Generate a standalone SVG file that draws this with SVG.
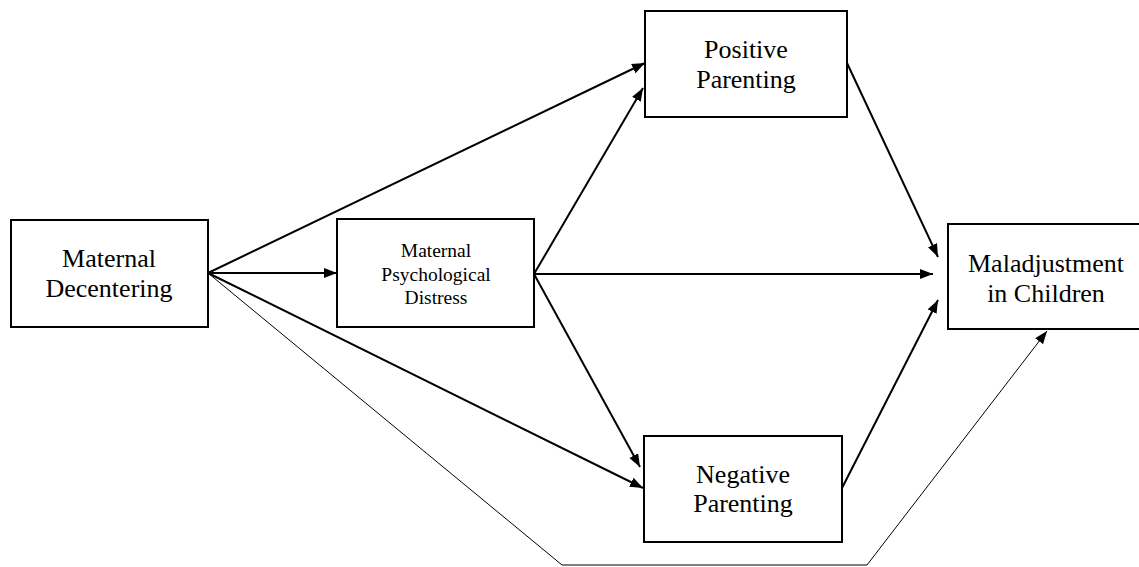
<svg xmlns="http://www.w3.org/2000/svg" width="1139" height="567" viewBox="0 0 1139 567">
<style>
.box{fill:#fff;stroke:#000;stroke-width:2}
.t{font-family:"Liberation Serif","Times New Roman",serif;fill:#000;text-anchor:middle}
.lg{font-size:26px}
.sm{font-size:19.5px}
.c{fill:none;stroke:#000;stroke-width:2}
.thin{fill:none;stroke:#000;stroke-width:1}
</style>
<defs>
<marker id="ah" markerUnits="userSpaceOnUse" markerWidth="14" markerHeight="12" refX="13" refY="5" orient="auto">
<path d="M0,0 L13,5 L0,10 Z" fill="#000"/>
</marker>
</defs>
<rect width="1139" height="567" fill="#fff"/>
<g id="connectors">
<path class="c" d="M208,273 L645,63" marker-end="url(#ah)"/>
<path class="c" d="M208,273 L337,273" marker-end="url(#ah)"/>
<path class="c" d="M208,273 L643,488" marker-end="url(#ah)"/>
<path class="thin" d="M208,273 L562,565 L867,565 L1047,331" marker-end="url(#ah)"/>
<path class="c" d="M534,274 L643,88" marker-end="url(#ah)"/>
<path class="c" d="M534,274 L933,274" marker-end="url(#ah)"/>
<path class="c" d="M534,274 L640,467" marker-end="url(#ah)"/>
<path class="c" d="M847,63 L938,257" marker-end="url(#ah)"/>
<path class="c" d="M842,488 L938,300" marker-end="url(#ah)"/>
</g>
<g id="maternal-decentering">
<rect class="box" x="11" y="220" width="197" height="107"/>
<text class="t lg" x="109" y="267">Maternal</text>
<text class="t lg" x="109" y="297">Decentering</text>
</g>
<g id="psychological-distress">
<rect class="box" x="337" y="219" width="197" height="108"/>
<text class="t sm" x="436" y="257">Maternal</text>
<text class="t sm" x="436" y="281">Psychological</text>
<text class="t sm" x="436" y="304">Distress</text>
</g>
<g id="positive-parenting">
<rect class="box" x="645" y="11" width="202" height="106"/>
<text class="t lg" x="746" y="58">Positive</text>
<text class="t lg" x="746" y="88">Parenting</text>
</g>
<g id="negative-parenting">
<rect class="box" x="644" y="436" width="198" height="106"/>
<text class="t lg" x="743" y="483">Negative</text>
<text class="t lg" x="743" y="512">Parenting</text>
</g>
<g id="maladjustment">
<rect class="box" x="948" y="224" width="195" height="105"/>
<text class="t lg" x="1046" y="272">Maladjustment</text>
<text class="t lg" x="1046" y="302">in Children</text>
</g>
</svg>
